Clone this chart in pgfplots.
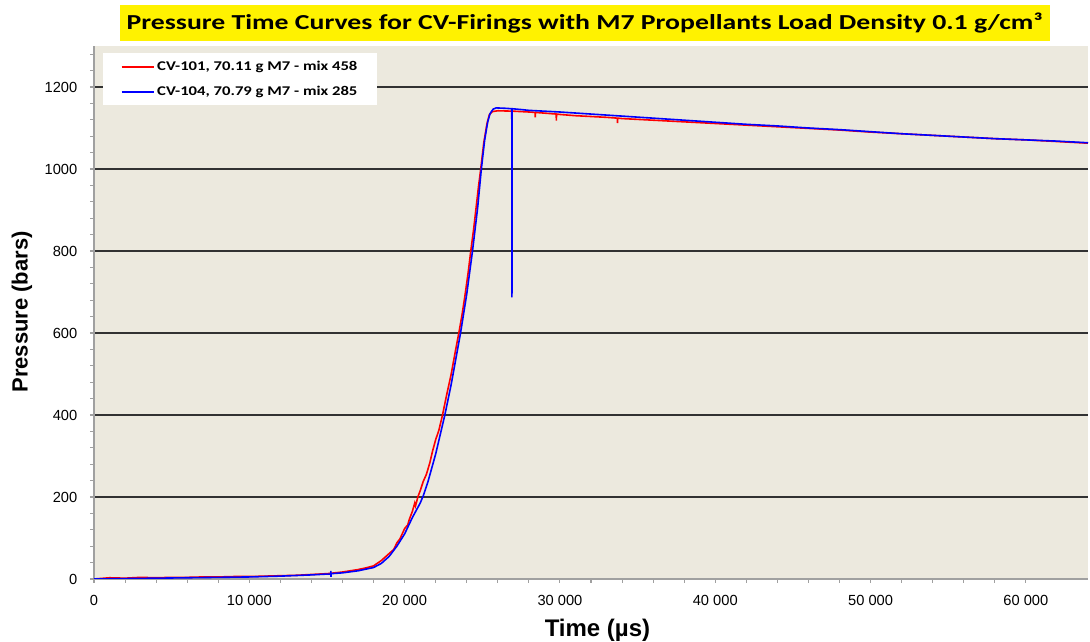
\documentclass[border=0pt]{standalone}
\usepackage{fontspec}
\setmainfont{Liberation Sans}
\newfontfamily\carlito{Carlito}
\usepackage{pgfplots}
\pgfplotsset{compat=1.18}
\definecolor{plotbg}{RGB}{236,233,222}
\definecolor{axgray}{RGB}{160,160,160}
\definecolor{gridc}{RGB}{50,50,50}
\definecolor{cvred}{RGB}{255,0,0}
\definecolor{cvblue}{RGB}{0,0,255}

\begin{document}
\begin{tikzpicture}
\path[use as bounding box] (-70.5pt,-47.25pt) rectangle (747pt,434.25pt);
% title bar
\fill[yellow] (19.5pt,403.5pt) rectangle (717pt,430.5pt);
\node[font=\carlito\bfseries\fontsize{16}{19}\selectfont] at (368pt,417pt)
  {\scalebox{1.3}[1]{Pressure Time Curves for CV-Firings with M7 Propellants Load Density 0.1 g/cm³}};
\begin{axis}[
  at={(0pt,0pt)}, anchor=south west,
  scale only axis, width=745.5pt, height=399.75pt,
  xmin=0, xmax=64000, ymin=0, ymax=1300,
  xtick distance=10000, ytick distance=200,
  minor x tick num=4, minor y tick num=4,
  axis x line*=bottom, axis y line*=left,
  axis line style={axgray, line width=1pt, -},
  axis background/.style={fill=plotbg},
  tick align=outside,
  major tick length=3pt, minor tick length=3pt,
  every tick/.style={axgray, line width=0.8pt},
  ymajorgrids, major grid style={gridc, line width=1pt},
  /pgf/number format/assume math mode=true,
  tick label style={font=\fontsize{11}{13}\selectfont, black},
  xticklabel style={/pgf/number format/1000 sep={\ }, yshift=-6pt},
  yticklabel style={/pgf/number format/1000 sep={}, xshift=-6pt},
  scaled x ticks=false,
  xlabel={Time (µs)}, ylabel={Pressure (bars)},
  xlabel style={font=\bfseries\fontsize{18}{21}\selectfont, at={(axis description cs:0.5065,-0.0957)}, anchor=center},
  ylabel style={font=\bfseries\fontsize{16.5}{19}\selectfont, at={(axis description cs:-0.0724,0.501)}, anchor=center, rotate=0},
  legend style={at={(axis description cs:0.009,0.987)}, anchor=north west,
    draw=none, fill=white, font=\carlito\bfseries\fontsize{10}{12}\selectfont,
    inner xsep=13pt, inner ysep=4pt, row sep=6pt},
  legend cell align=left,
  legend image code/.code={\draw[#1, line width=1.5pt] (0pt,0pt) -- (24pt,0pt);},
]
\addplot[color=cvred, line width=1.2pt] coordinates {
(0,0)(1000,3)(2000,2)(3000,4)(4000,3)(5000,4)(6000,4)(7000,5)(8000,5)(9000,6)(10000,6)
(11000,7)(12000,8)(13000,9)(14000,11)(15000,13)(16000,17)(17000,23)(17500,27)(18000,32)
(18500,45)(19000,62)(19300,72)(19500,88)(19700,98)(20000,123)(20200,132)(20300,145)(20500,165)
(20650,185)(20700,178)(20860,201)(21000,215)(21200,238)(21400,255)(21620,283)(21800,312)(22000,340)
(22200,362)(22440,400)(22700,448)(23000,500)(23250,552)(23490,600)(23700,645)(23900,695)
(24100,750)(24260,800)(24450,855)(24600,905)(24750,955)(24900,1000)(25100,1065)(25300,1110)
(25450,1132)(25650,1140)(26000,1142)(27000,1141)(28000,1139)(28400,1138)(28410,1126)(28420,1138)
(29760,1134)(29770,1118)(29780,1134)(30000,1133)(31000,1130)(32000,1128)(33000,1126)(33700,1124)
(33710,1112)(33720,1124)(34000,1123)(36000,1119)(38000,1115)(40000,1111)(42000,1107)(44000,1103)
(46000,1099)(48000,1095)(50000,1090)(52000,1086)(54000,1082)(56000,1078)(58000,1074)(60000,1071)
(62000,1067)(64000,1063)};
\addlegendentry{\scalebox{1.25}[1]{CV-101, 70.11 g M7 - mix 458}}
\addplot[color=cvblue, line width=1.2pt] coordinates {
(0,0)(2000,1)(4000,2)(6000,3)(8000,4)(10000,5)(12000,7)(14000,10)(15000,12)
(15240,12)(15250,20)(15260,5)(15270,13)(16000,15)(17000,20)(17500,24)(18000,28)
(18500,38)(19000,55)(19500,80)(20000,110)(20500,150)(21000,185)(21200,203)(21500,237)
(22000,305)(22590,400)(23000,475)(23600,600)(24000,695)(24370,800)(24700,905)(24940,1000)
(25150,1070)(25350,1115)(25500,1135)(25700,1146)(25900,1149)(26500,1148)(26900,1147)
(26910,687)(26920,1147)(27500,1145)(28000,1143)(30000,1139)(32000,1134)(34000,1129)
(36000,1124)(38000,1119)(40000,1114)(42000,1109)(44000,1105)(46000,1100)(48000,1096)
(50000,1091)(52000,1086)(54000,1082)(56000,1078)(58000,1074)(60000,1071)(62000,1068)(64000,1064)};
\addlegendentry{\scalebox{1.25}[1]{CV-104, 70.79 g M7 - mix 285}}
\end{axis}
\end{tikzpicture}
\end{document}
